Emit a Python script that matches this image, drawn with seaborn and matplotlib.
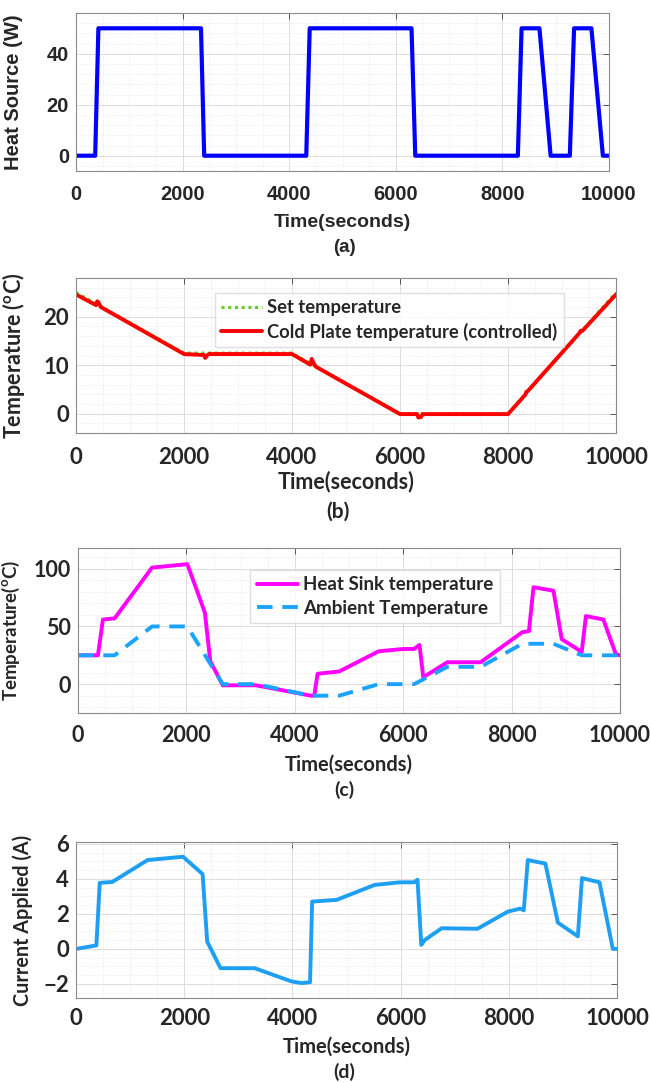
import numpy as np
import pandas as pd
import matplotlib
matplotlib.use("Agg")
import matplotlib.pyplot as plt
from matplotlib.ticker import MultipleLocator
import seaborn as sns

# --- (a) heat source profile ---
heat_t = [0, 360, 420, 2345, 2405, 4320, 4385, 6295, 6365, 8290, 8360, 8695, 8905, 9265, 9345, 9670, 9885, 10000]
heat_w = [0, 0, 50, 50, 0, 0, 50, 50, 0, 0, 50, 50, 0, 0, 50, 50, 0, 0]

# --- (b) set point vs cold plate ---
set_t = [0, 2000, 4000, 6000, 8000, 10000]
set_T = [25, 12.5, 12.5, 0, 0, 25]
cold_t = [0, 370, 395, 420, 460, 2000, 2370, 2390, 2420, 2460, 4000, 4340, 4365, 4390, 4440,
          6000, 6320, 6340, 6390, 6420, 8000, 8320, 8340, 8370, 9320, 9345, 9380, 10000]
cold_T = [24.6, 22.4, 23.2, 22.9, 22.0, 12.3, 12.1, 11.5, 11.9, 12.3, 12.3, 10.1, 11.3, 10.6, 9.7,
          -0.1, -0.1, -0.8, -0.7, -0.1, -0.1, 3.9, 4.5, 4.7, 16.6, 17.1, 17.1, 24.6]

# --- (c) heat sink and ambient ---
sink_t = [0, 368, 460, 675, 1366, 2018, 2341, 2440, 2671, 3285, 4300, 4359, 4420, 4820, 5549,
          6009, 6201, 6301, 6370, 6815, 7429, 8197, 8320, 8404, 8772, 8925, 9294, 9371, 9693, 9923, 10000]
sink_T = [25, 25, 56, 57, 101, 104, 62, 20, -1, -1, -10, -10, 9, 11, 28.5,
          30.5, 30.5, 34, 6, 19, 19, 45, 46, 84, 81, 39, 28, 59, 56, 26, 25]
amb_t = [0, 675, 1366, 2018, 2671, 3285, 4300, 4820, 5549, 6201, 6815, 7429, 8197, 8772, 9294, 10000]
amb_T = [25, 25, 50, 50, 0, 0, -10, -10, 0, 0, 15, 15, 35, 35, 25, 25]

# --- (d) applied current ---
cur_t = [0, 377, 439, 670, 1324, 1978, 2340, 2425, 2671, 3303, 3980, 4172, 4326, 4365, 4819, 5520,
         5981, 6251, 6313, 6382, 6443, 6759, 7421, 7983, 8214, 8276, 8352, 8676, 8907, 9276, 9353,
         9676, 9923, 10000]
cur_A = [0.0, 0.2, 3.77, 3.82, 5.07, 5.26, 4.27, 0.42, -1.1, -1.1, -1.85, -1.95, -1.9, 2.7, 2.8, 3.65,
         3.8, 3.8, 3.95, 0.23, 0.5, 1.18, 1.15, 2.13, 2.3, 2.2, 5.07, 4.87, 1.5, 0.72, 4.04,
         3.8, 0.0, 0.0]

sns.set_style("white")
plt.rcParams["font.family"] = ["Lato", "DejaVu Sans"]
plt.rcParams["font.weight"] = "bold"
plt.rcParams["mathtext.fontset"] = "custom"
plt.rcParams["mathtext.rm"] = "Lato:bold"
plt.rcParams["mathtext.bf"] = "Lato:bold"

fig = plt.figure(figsize=(6.5, 10.83), dpi=100)
W, H = 650, 1083


def add_axes(l, r, t, b):
    return fig.add_axes([l / W, 1 - b / H, (r - l) / W, (b - t) / H])


def style(ax, ylim, ymaj, ymin, fam, fs, pad):
    ax.set_xlim(0, 10000)
    ax.set_ylim(*ylim)
    ax.xaxis.set_major_locator(MultipleLocator(2000))
    ax.xaxis.set_minor_locator(MultipleLocator(500))
    ax.yaxis.set_major_locator(MultipleLocator(ymaj))
    ax.yaxis.set_minor_locator(MultipleLocator(ymin))
    ax.grid(True, which="major", color="#dcdcdc", lw=0.7, ls="-")
    ax.grid(True, which="minor", color="#e4e4e4", lw=0.6, ls=":")
    ax.set_axisbelow(True)
    ax.tick_params(which="major", direction="in", length=4, width=0.7, color="#555555",
                   top=True, right=True, labelsize=fs)
    ax.tick_params(axis="x", which="major", pad=pad)
    ax.tick_params(axis="y", which="major", pad=5)
    ax.tick_params(which="minor", length=0)
    for s in ax.spines.values():
        s.set_color("#8a8a8a")
        s.set_linewidth(0.8)
    for lab in ax.get_xticklabels() + ax.get_yticklabels():
        lab.set_family(fam)
        lab.set_weight("bold")


# (a)
ax = add_axes(76, 609, 13, 171)
sns.lineplot(x=heat_t, y=heat_w, ax=ax, color="#0000ff", lw=3, estimator=None, sort=False)
style(ax, (-6, 56), 20, 4, "Liberation Sans", 14.5, 10)
ax.set_xlabel("Time(seconds)", family="Liberation Sans", weight="bold", fontsize=14, labelpad=7)
ax.set_ylabel("Heat Source (W)", family="Liberation Sans", weight="bold", fontsize=14.5)
ax.yaxis.set_label_coords(-0.1, 0.5)
fig.text(0.53, 1 - 247 / H, "(a)", ha="center", va="center", family="Liberation Sans",
         weight="bold", fontsize=13.5)

# (b)
ax = add_axes(76, 616, 278, 433)
sns.lineplot(x=set_t, y=set_T, ax=ax, color="#66cc22", lw=2.2, ls=(0, (1, 1.2)),
             estimator=None, sort=False, label="Set temperature")
sns.lineplot(x=cold_t, y=cold_T, ax=ax, color="#ff0000", lw=2.8, estimator=None, sort=False,
             label="Cold Plate temperature (controlled)")
style(ax, (-4, 28), 10, 2, "Lato", 16, 10)
ax.set_xlabel("Time(seconds)", weight="bold", fontsize=15.5, labelpad=2)
ax.set_ylabel("Temperature ($^{\\mathrm{o}}$C)", weight="bold", fontsize=15.5)
ax.yaxis.set_label_coords(-0.09, 0.5)
ax.legend(loc="upper left", bbox_to_anchor=(0.24, 0.965), frameon=True,
          fancybox=False, edgecolor="#d8d8d8", handlelength=2.2, handletextpad=0.3,
          borderpad=0.35, labelspacing=0.35, prop={"family": "Lato", "weight": "bold", "size": 13.2})
fig.text(0.52, 1 - 512 / H, "(b)", ha="center", va="center", weight="bold", fontsize=15)

# (c)
ax = add_axes(78, 620, 548, 713)
sns.lineplot(x=sink_t, y=sink_T, ax=ax, color="#ff00ff", lw=2.8, estimator=None, sort=False,
             label="Heat Sink temperature")
sns.lineplot(x=amb_t, y=amb_T, ax=ax, color="#1aa3ff", lw=2.8, ls=(0, (4, 2.5)),
             estimator=None, sort=False, label="Ambient Temperature")
style(ax, (-25, 118), 50, 10, "Lato", 15.5, 9)
ax.set_xlabel("Time(seconds)", weight="bold", fontsize=14.5, labelpad=6)
ax.set_ylabel("Temperature($^{\\mathrm{o}}$C)", weight="bold", fontsize=13.5)
ax.yaxis.set_label_coords(-0.103, 0.5)
ax.legend(loc="upper left", bbox_to_anchor=(0.30, 0.925), frameon=True, fancybox=False,
          edgecolor="#d8d8d8", handlelength=2.2, handletextpad=0.3, borderpad=0.35,
          labelspacing=0.35, prop={"family": "Lato", "weight": "bold", "size": 13.5})
fig.text(0.53, 1 - 790 / H, "(c)", ha="center", va="center", weight="bold", fontsize=14)

# (d)
ax = add_axes(76, 617, 842, 998)
sns.lineplot(x=cur_t, y=cur_A, ax=ax, color="#1e9ff2", lw=2.8, estimator=None, sort=False)
style(ax, (-2.8, 6.1), 2, 0.5, "Lato", 16, 7)
ax.set_xlabel("Time(seconds)", weight="bold", fontsize=14.5, labelpad=6)
ax.set_ylabel("Current Applied (A)", weight="bold", fontsize=14.2)
ax.yaxis.set_label_coords(-0.08, 0.5)
fig.text(0.53, 1 - 1072 / H, "(d)", ha="center", va="center", weight="bold", fontsize=14)

fig.savefig("out.png", dpi=100)
